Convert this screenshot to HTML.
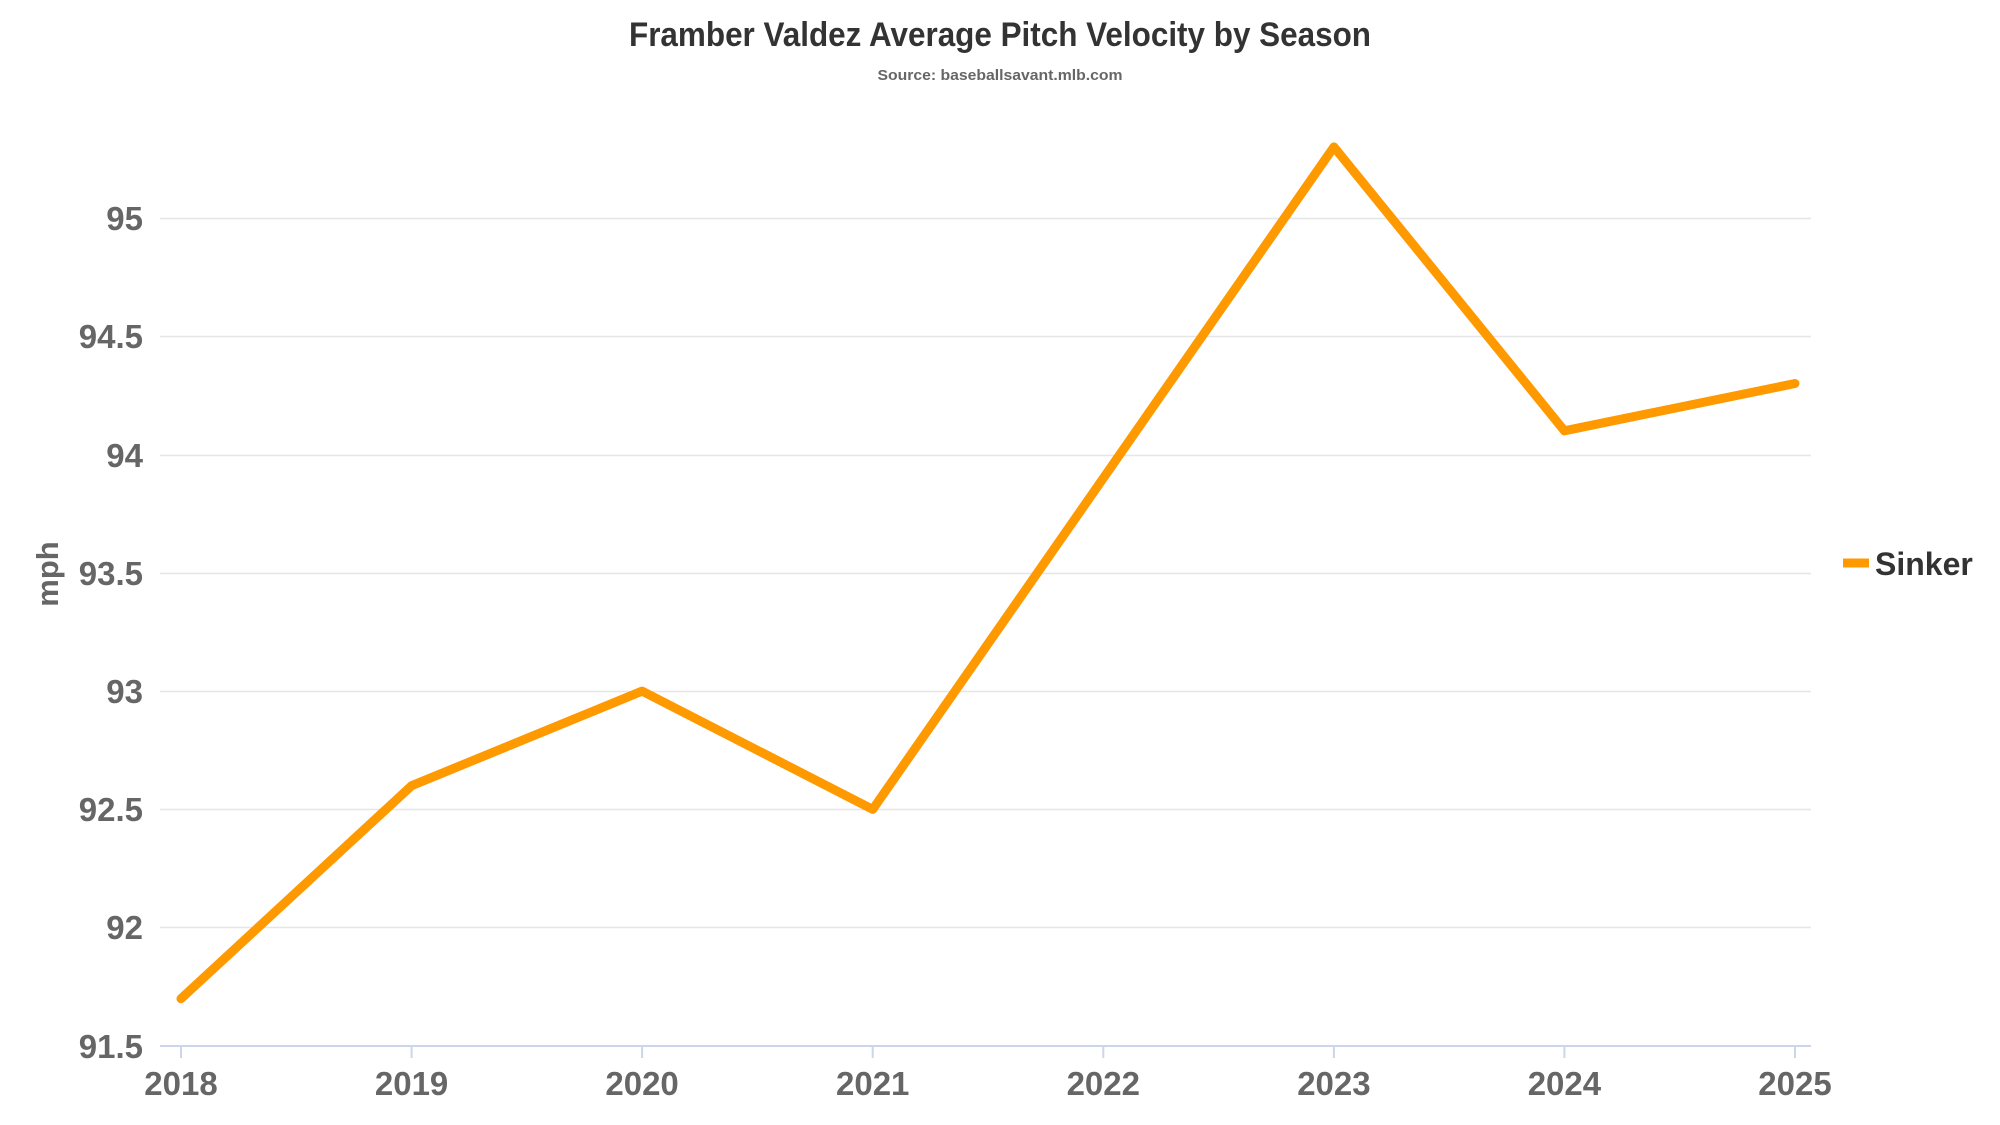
<!DOCTYPE html>
<html><head><meta charset="utf-8"><style>
html,body{margin:0;padding:0;background:#fff;}
svg{display:block;}
text{font-family:"Liberation Sans Narrow","Liberation Sans",sans-serif;font-weight:bold;}
</style></head><body>
<svg width="2000" height="1125" viewBox="0 0 2000 1125">
<text x="1000" y="46" text-anchor="middle" font-size="34" fill="#333" textLength="742" lengthAdjust="spacingAndGlyphs">Framber Valdez Average Pitch Velocity by Season</text>
<text x="1000" y="80" text-anchor="middle" font-size="15" fill="#666" textLength="245" lengthAdjust="spacingAndGlyphs">Source: baseballsavant.mlb.com</text>
<g stroke="#e6e6e6" stroke-width="1.5">
<line x1="160" x2="1811" y1="218.5" y2="218.5"/>
<line x1="160" x2="1811" y1="336.5" y2="336.5"/>
<line x1="160" x2="1811" y1="455.5" y2="455.5"/>
<line x1="160" x2="1811" y1="573.5" y2="573.5"/>
<line x1="160" x2="1811" y1="691.5" y2="691.5"/>
<line x1="160" x2="1811" y1="809.5" y2="809.5"/>
<line x1="160" x2="1811" y1="927.5" y2="927.5"/>
</g>
<line x1="160" x2="1811" y1="1046" y2="1046" stroke="#ccd6eb" stroke-width="2"/>
<g stroke="#ccd6eb" stroke-width="2">
<line x1="181" x2="181" y1="1046" y2="1058"/><line x1="411.6" x2="411.6" y1="1046" y2="1058"/>
<line x1="642.1" x2="642.1" y1="1046" y2="1058"/><line x1="872.7" x2="872.7" y1="1046" y2="1058"/>
<line x1="1103.3" x2="1103.3" y1="1046" y2="1058"/><line x1="1333.9" x2="1333.9" y1="1046" y2="1058"/>
<line x1="1564.4" x2="1564.4" y1="1046" y2="1058"/><line x1="1795" x2="1795" y1="1046" y2="1058"/>
</g>
<g font-size="33" fill="#666" text-anchor="end">
<text x="143" y="230">95</text><text x="143" y="348">94.5</text><text x="143" y="467">94</text>
<text x="143" y="585">93.5</text><text x="143" y="703">93</text><text x="143" y="821">92.5</text>
<text x="143" y="939">92</text><text x="143" y="1058">91.5</text>
</g>
<g font-size="33" fill="#666" text-anchor="middle">
<text x="181" y="1095">2018</text><text x="411.6" y="1095">2019</text><text x="642.1" y="1095">2020</text>
<text x="872.7" y="1095">2021</text><text x="1103.3" y="1095">2022</text><text x="1333.9" y="1095">2023</text>
<text x="1564.4" y="1095">2024</text><text x="1795" y="1095">2025</text>
</g>
<text transform="translate(58,574) rotate(-90)" text-anchor="middle" font-size="31" fill="#666">mph</text>
<polyline fill="none" stroke="#ff9900" stroke-width="9" stroke-linejoin="round" stroke-linecap="round"
points="181,998.7 411.6,785.7 642.1,691.1 872.7,809.4 1103.3,478.2 1333.9,146.9 1564.4,430.8 1795,383.5"/>
<line x1="1843" x2="1869" y1="563" y2="563" stroke="#ff9900" stroke-width="9"/>
<text x="1875" y="575" font-size="32" fill="#333">Sinker</text>
</svg>
</body></html>
